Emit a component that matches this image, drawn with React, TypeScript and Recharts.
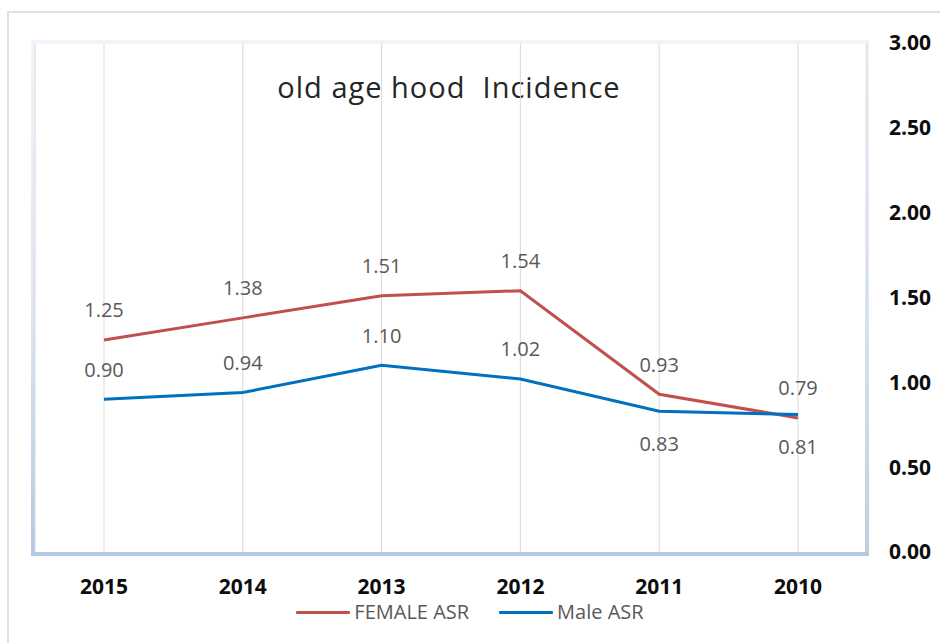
import React from "react"
import { LineChart, Line, XAxis, YAxis, CartesianGrid, Legend, LabelList } from "recharts"

const years = ["2015", "2014", "2013", "2012", "2011", "2010"]
const femaleAsr = [1.25, 1.38, 1.51, 1.54, 0.93, 0.79]
const maleAsr = [0.9, 0.94, 1.1, 1.02, 0.83, 0.81]
const yTicks = [0, 0.5, 1, 1.5, 2, 2.5, 3]

const FONT = "'Open Sans', 'DejaVu Sans', sans-serif"
const RED = "#c0504d"
const BLUE = "#0070c0"

const data = years.map((year, i) => ({ year, female: femaleAsr[i], male: maleAsr[i] }))

// male labels go under the line where the two series meet (2011, 2010)
const makeLabel = (series: "female" | "male") => (props: any) => {
  const { x, y, value, index } = props
  const below = series === "male" && index >= 4
  return (
    <text
      x={x}
      y={below ? y + 32 : y - 30}
      textAnchor="middle"
      dominantBaseline="central"
      fill="#595959"
      fontSize={20}
      fontFamily={FONT}
    >
      {Number(value).toFixed(2)}
    </text>
  )
}

const renderLegend = (props: any) => {
  const { payload } = props
  return (
    <div style={{ display: "flex", justifyContent: "center", gap: 30, fontFamily: FONT, fontSize: 20, lineHeight: "22px", color: "#595959" }}>
      {payload.map((entry: any) => (
        <div key={entry.value} style={{ display: "flex", alignItems: "center" }}>
          <span style={{ display: "inline-block", width: 54, height: 3, background: entry.color, marginRight: 4, borderRadius: 1 }} />
          {entry.value}
        </div>
      ))}
    </div>
  )
}

export default function App() {
  return (
    <div style={{ position: "absolute", left: 0, top: 0, width: 940, height: 643, background: "#fff", overflow: "hidden" }}>
      <div style={{ position: "absolute", left: 7, top: 11, width: 960, height: 660, borderTop: "2px solid #e0e0e0", borderLeft: "2px solid #e0e0e0" }} />
      <div
        style={{
          position: "absolute",
          left: 31,
          top: 40,
          width: 830,
          height: 508,
          borderStyle: "solid",
          borderWidth: 4,
          borderImage: "linear-gradient(to bottom, #f1f5fb, #dbe5f1 55%, #b4c8e4) 1",
        }}
      />
      <div
        style={{
          position: "absolute",
          left: 34,
          width: 830,
          top: 67,
          textAlign: "center",
          fontFamily: FONT,
          fontSize: 29,
          color: "#262626",
          letterSpacing: 1,
          whiteSpace: "pre",
        }}
      >
        {"old age hood  Incidence"}
      </div>
      <LineChart
        width={940}
        height={643}
        data={data}
        margin={{ top: 43, right: 0, bottom: 41, left: 35 }}
        style={{ position: "absolute", left: 0, top: 0 }}
      >
        <CartesianGrid horizontal={false} vertical stroke="#d9d9d9" />
        <XAxis
          dataKey="year"
          axisLine={false}
          tickLine={false}
          tickSize={0}
          tickMargin={27}
          height={50}
          padding={{ left: 69, right: 69 }}
          tick={{ fill: "#0d0d0d", fontSize: 21, fontWeight: 700, fontFamily: FONT }}
        />
        <YAxis
          orientation="right"
          domain={[0, 3]}
          ticks={yTicks}
          width={73}
          axisLine={false}
          tickLine={false}
          tickSize={0}
          tickMargin={22}
          tickFormatter={(v: number) => v.toFixed(2)}
          tick={{ fill: "#0d0d0d", fontSize: 21, fontWeight: 700, fontFamily: FONT }}
        />
        <Legend
          content={renderLegend}
          layout="horizontal"
          align="center"
          verticalAlign="middle"
          wrapperStyle={{ position: "absolute", top: 601, left: 0, width: 940 }}
        />
        <Line
          type="linear"
          dataKey="female"
          name="FEMALE ASR"
          stroke={RED}
          strokeWidth={3}
          dot={false}
          isAnimationActive={false}
        >
          <LabelList dataKey="female" content={makeLabel("female")} />
        </Line>
        <Line
          type="linear"
          dataKey="male"
          name="Male ASR"
          stroke={BLUE}
          strokeWidth={3}
          dot={false}
          isAnimationActive={false}
        >
          <LabelList dataKey="male" content={makeLabel("male")} />
        </Line>
      </LineChart>
    </div>
  )
}
